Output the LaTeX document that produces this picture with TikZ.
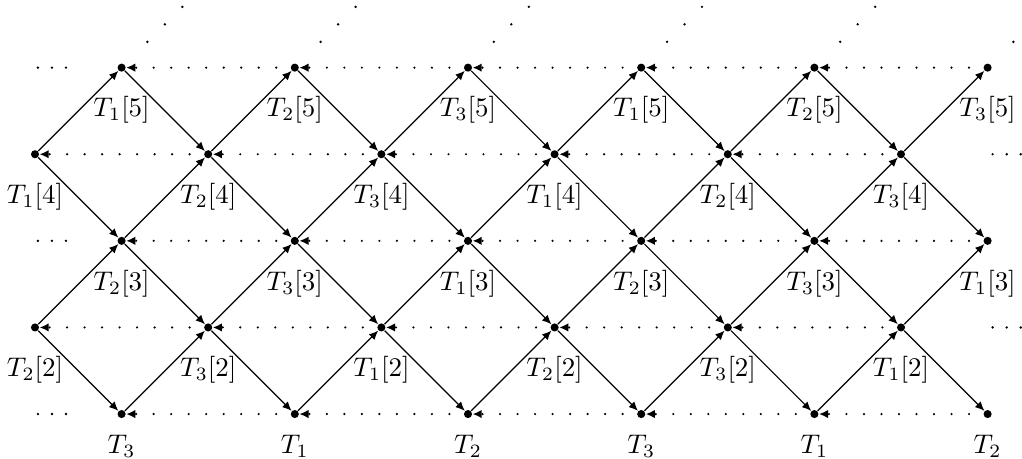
\documentclass[tikz,border=0pt]{standalone}
\usetikzlibrary{arrows.meta}
\begin{document}
\begin{tikzpicture}[x=1.13cm,y=1.13cm,
  dotnode/.style={circle,fill=black,inner sep=0pt,minimum size=3pt},
  solidarr/.style={-{Latex[length=3.4pt,width=3pt]},line width=0.45pt},
  dotarr/.style={-{Latex[length=3.4pt,width=3.2pt]},line width=0.9pt,line cap=round,dash pattern=on 0pt off 6.5pt,dash phase=1.3pt},
  lab/.style={inner sep=0pt},
  edot/.style={fill=black}]
\useasboundingbox (-0.404,-0.508) rectangle (11.397,4.781);
% nodes
\foreach \i in {0,...,11}{
  \foreach \j in {0,...,4}{
    \pgfmathtruncatemacro{\p}{mod(\i+\j,2)}
    \ifnum\p=1 \node[dotnode] (n-\i-\j) at (\i,\j) {}; \fi
  }
}
% diagonal arrows
\foreach \i in {0,...,10}{
  \pgfmathtruncatemacro{\ii}{\i+1}
  \foreach \j in {0,...,4}{
    \pgfmathtruncatemacro{\p}{mod(\i+\j,2)}
    \pgfmathtruncatemacro{\up}{\j+1}
    \pgfmathtruncatemacro{\dn}{\j-1}
    \ifnum\p=1
      \ifnum\j<4 \draw[solidarr] (n-\i-\j) -- (n-\ii-\up); \fi
      \ifnum\j>0 \draw[solidarr] (n-\i-\j) -- (n-\ii-\dn); \fi
    \fi
  }
}
% dotted arrows
\foreach \i in {0,...,9}{
  \pgfmathtruncatemacro{\ii}{\i+2}
  \foreach \j in {0,...,4}{
    \pgfmathtruncatemacro{\p}{mod(\i+\j,2)}
    \ifnum\p=1 \draw[dotarr] (n-\ii-\j) -- (n-\i-\j); \fi
  }
}
% labels
\foreach \i in {0,...,11}{
  \pgfmathtruncatemacro{\m}{floor(\i/2)}
  \pgfmathtruncatemacro{\ka}{mod(\m,3)+1}
  \pgfmathtruncatemacro{\kb}{mod(\m+1,3)+1}
  \pgfmathtruncatemacro{\kc}{mod(\m+2,3)+1}
  \pgfmathtruncatemacro{\p}{mod(\i,2)}
  \ifnum\p=1
    \node[lab] (a-\i) at (\i,3.51) {$T_{\ka}[5]$};
    \node[lab] (c-\i) at (\i,1.51) {$T_{\kb}[3]$};
    \node[lab] (e-\i) at (\i,-0.37) {$T_{\kc}$};
  \else
    \node[lab] (b-\i) at (\i,2.51) {$T_{\ka}[4]$};
    \node[lab] (d-\i) at (\i,0.51) {$T_{\kb}[2]$};
  \fi
}
% ellipses
\foreach \j in {0,2,4}{
  \foreach \d in {-0.162,0,0.162}{
    \fill[edot] (0.196+\d,\j) circle (0.5pt);
  }
}
\foreach \j in {1,3}{
  \foreach \d in {-0.162,0,0.162}{
    \fill[edot] (11.22+\d,\j) circle (0.5pt);
  }
}
\foreach \i in {1,3,5,7,9,11}{
  \foreach \d in {-0.202,0,0.202}{
    \fill[edot] (\i+0.5+\d,4.5+\d) circle (0.5pt);
  }
}
\end{tikzpicture}
\end{document}
